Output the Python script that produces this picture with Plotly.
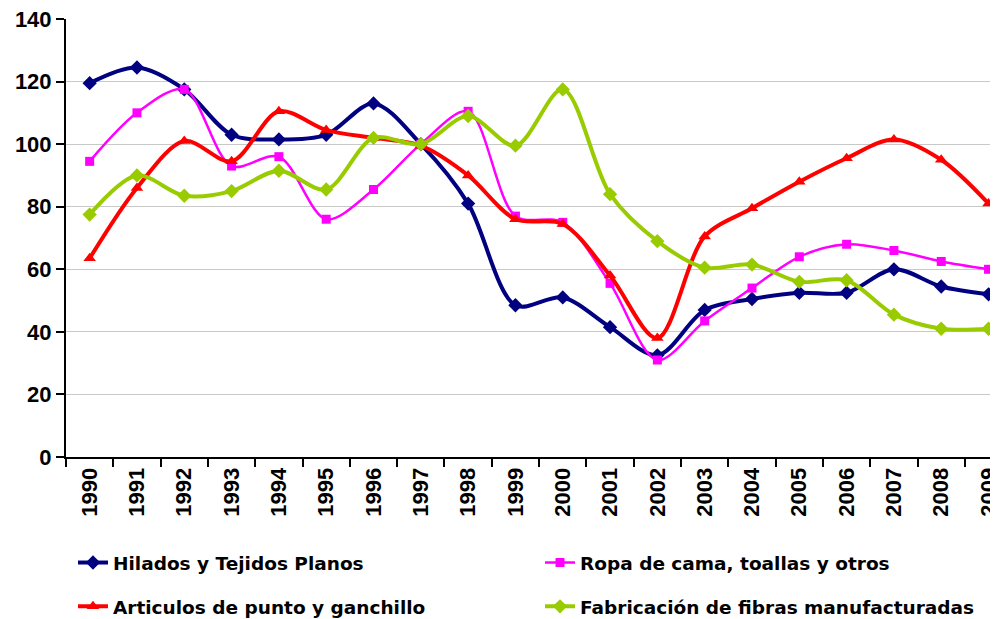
import plotly.graph_objects as go

years = [str(y) for y in range(1990, 2010)]

hilados = [119.5, 124.5, 117.5, 103, 101.5, 103, 113, 100, 81, 48.5,
           51, 41.5, 32.5, 47, 50.5, 52.5, 52.5, 60, 54.5, 52]
ropa = [94.5, 110, 117.5, 93, 96, 76, 85.5, 100, 110.5, 77,
        75, 55.5, 31, 43.5, 54, 64, 68, 66, 62.5, 60]
articulos = [63.5, 86, 101, 94.5, 110.5, 104.5, 102, 99.5, 90, 76,
             74.5, 58, 38, 70.5, 79.5, 88, 95.5, 101.5, 95, 81]
fibras = [77.5, 90, 83.5, 85, 91.5, 85.5, 102, 100, 109, 99.5,
          117.5, 84, 69, 60.5, 61.5, 56, 56.5, 45.5, 41, 41]

series = [
    ("Hilados y Tejidos Planos", hilados, "#000080", 4, "diamond", 11, "legend"),
    ("Ropa de cama, toallas y otros", ropa, "#FF00FF", 2.5, "square", 9, "legend2"),
    ("Articulos de punto y ganchillo", articulos, "#FF0000", 4, "triangle-up", 11, "legend3"),
    ("Fabricación de fibras manufacturadas", fibras, "#99CC00", 4, "diamond", 11, "legend4"),
]

fig = go.Figure()
for name, vals, color, width, symbol, msize, leg in series:
    fig.add_trace(go.Scatter(
        x=years, y=vals, name=name, mode="lines+markers",
        line=dict(color=color, width=width, shape="spline", smoothing=0.9),
        marker=dict(symbol=symbol, size=msize, color=color, line=dict(width=0)),
        legend=leg, showlegend=True,
    ))

legend_font = dict(family="DejaVu Sans", size=18.5, color="black", weight="bold")


def legend_box(x, y):
    return dict(orientation="h", x=x, xanchor="left", y=y, yanchor="middle",
                font=legend_font, bgcolor="rgba(0,0,0,0)", visible=True)


tick_font = dict(family="Liberation Sans", size=22, color="black", weight="bold")

# the page body adds an 8px offset, so the figure is drawn 8px smaller / shifted
fig.update_layout(
    width=990, height=619,
    margin=dict(l=58, r=0, t=11, b=170),
    plot_bgcolor="white", paper_bgcolor="white",
    showlegend=True,
    legend=legend_box(0.0075, -0.242),
    legend2=legend_box(0.5086, -0.242),
    legend3=legend_box(0.0075, -0.342),
    legend4=legend_box(0.5086, -0.342),
    xaxis=dict(
        type="category", range=[-0.5, 19.2], tickson="boundaries",
        ticks="outside", ticklen=8, tickcolor="black", tickwidth=1.5,
        showline=True, linecolor="black", linewidth=2, showgrid=False,
        tickangle=-90, tickfont=tick_font, automargin=False,
        ticklabeloverflow="allow",
    ),
    yaxis=dict(
        range=[0, 140], dtick=20, ticks="outside", ticklen=8, tickcolor="black",
        tickwidth=1.5, showline=True, linecolor="black", linewidth=2,
        showgrid=True, gridcolor="#c8c8c8", gridwidth=1, zeroline=False,
        tickfont=tick_font, automargin=False, ticklabeloverflow="allow",
    ),
)

fig.write_html("out.html")
